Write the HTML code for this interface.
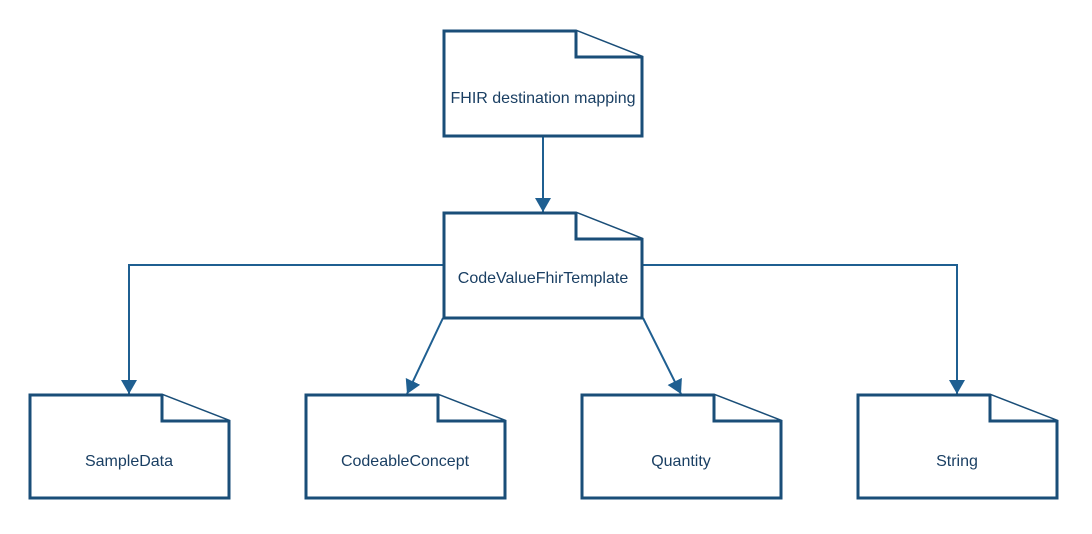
<!DOCTYPE html>
<html><head><style>body{margin:0;background:#fff}</style></head><body>
<svg width="1092" height="529" xmlns="http://www.w3.org/2000/svg" font-family="Liberation Sans, sans-serif" font-size="16" fill="none">
<defs><marker id="a" markerWidth="10" markerHeight="10" refX="5" refY="9" orient="auto" markerUnits="userSpaceOnUse" viewBox="0 0 10 10"><path d="M0,0 L10,0 L5,10z" fill="#1f5f91" transform="rotate(0)"/></marker>
<marker id="m" viewBox="0 0 14 16" refX="14" refY="8" markerWidth="14" markerHeight="16" orient="auto" markerUnits="userSpaceOnUse"><path d="M0,0 L14,8 L0,16z" fill="#1f5f91"/></marker></defs>
<g stroke="#1f5f91" stroke-width="2">
<path d="M543,136 V212" marker-end="url(#m)"/>
<path d="M443,265 H129 V394" marker-end="url(#m)"/>
<path d="M643,265 H957 V394" marker-end="url(#m)"/>
<path d="M443,318 L407,394" marker-end="url(#m)"/>
<path d="M643,318 L681,394" marker-end="url(#m)"/>
</g>
<g stroke="#1a4e78" stroke-width="3" fill="#fff">
<path d="M444,31 H576 L642,57 V136 H444Z"/><path d="M576,31 V57 H642"/>
<path d="M444,213 H576 L642,239 V318 H444Z"/><path d="M576,213 V239 H642"/>
<path d="M30,395 H162 L229,421 V498 H30Z"/><path d="M162,395 V421 H229"/>
<path d="M306,395 H438 L505,421 V498 H306Z"/><path d="M438,395 V421 H505"/>
<path d="M582,395 H714 L781,421 V498 H582Z"/><path d="M714,395 V421 H781"/>
<path d="M858,395 H990 L1057,421 V498 H858Z"/><path d="M990,395 V421 H1057"/>
</g>
<g fill="#1a3f63" text-anchor="middle">
<text x="543" y="103">FHIR destination mapping</text>
<text x="543" y="283">CodeValueFhirTemplate</text>
<text x="129" y="466">SampleData</text>
<text x="405" y="466">CodeableConcept</text>
<text x="681" y="466">Quantity</text>
<text x="957" y="466">String</text>
</g>
</svg>
</body></html>
